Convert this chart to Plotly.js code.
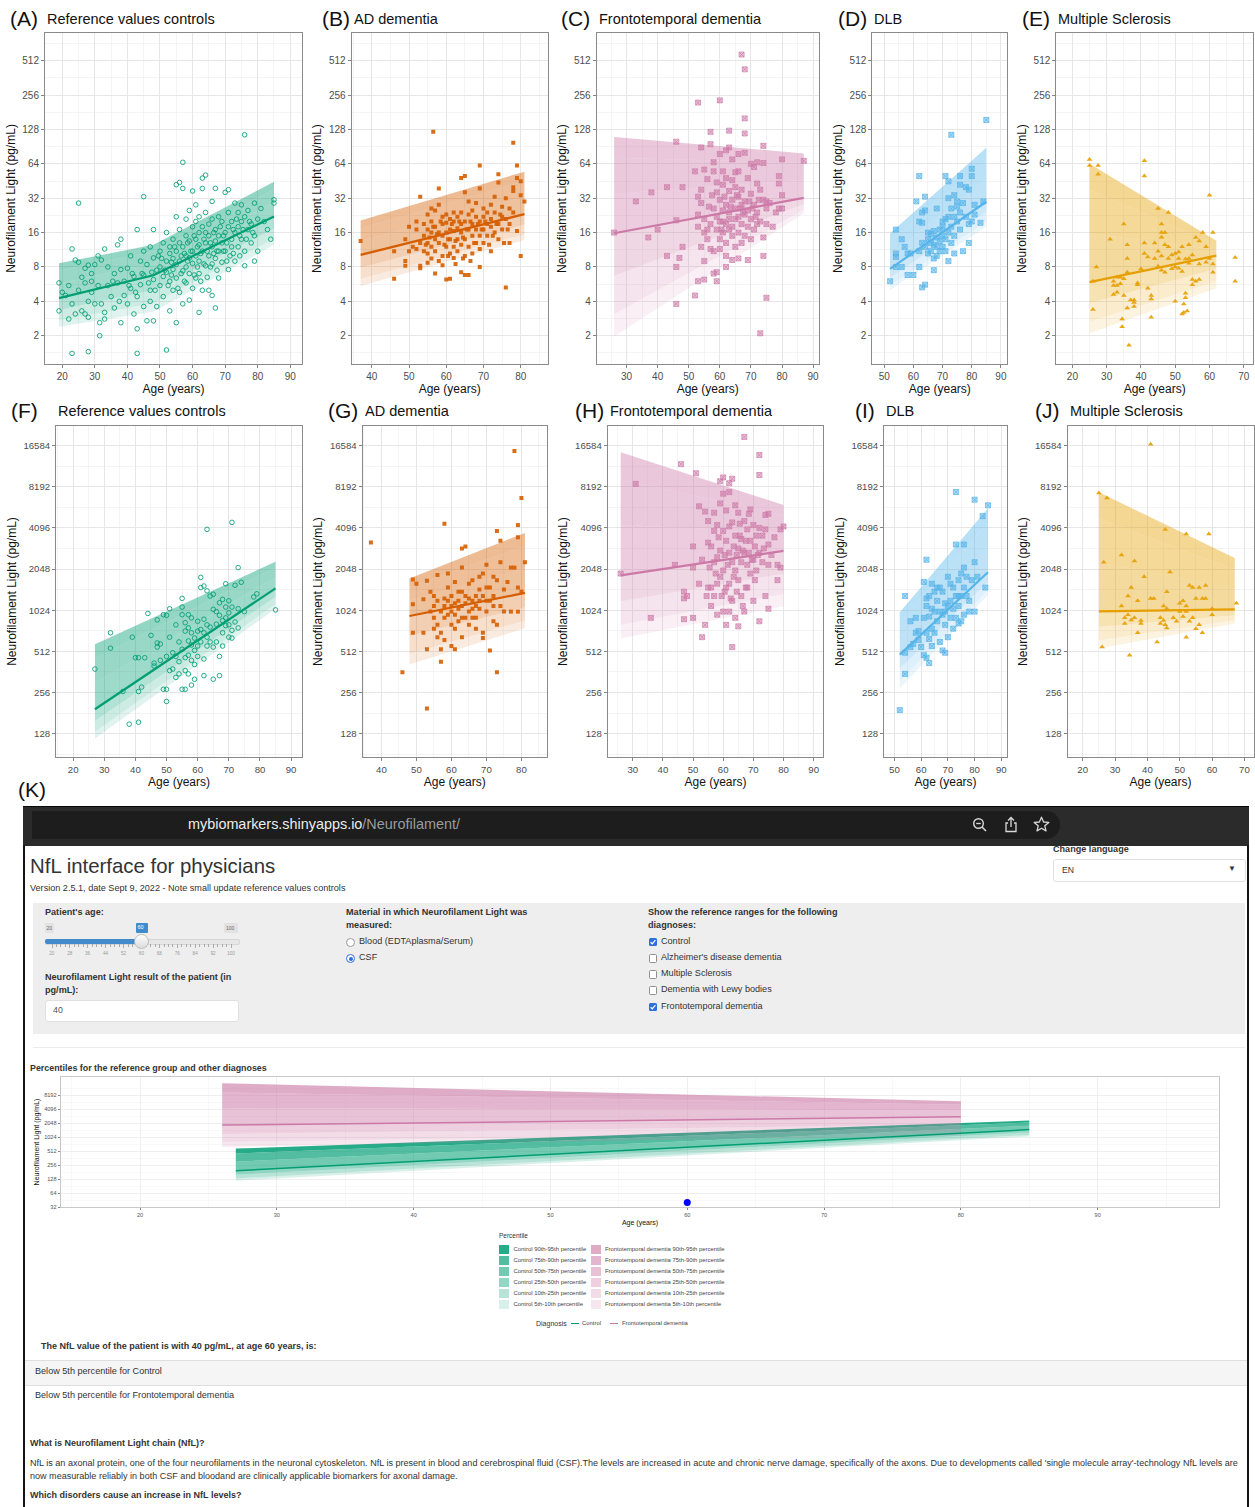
<!DOCTYPE html>
<html><head><meta charset="utf-8">
<script src="https://cdn.plot.ly/plotly-3.0.1.min.js"></script>
<style>
html,body{margin:0;padding:0;background:#fff;}
#wrap{position:relative;width:1255px;height:1507px;overflow:hidden;font-family:"Liberation Sans",Arial,Helvetica,sans-serif;}
#plot{position:absolute;left:0;top:0;width:1255px;height:1507px;}
#ui{position:absolute;left:0;top:0;width:1255px;height:1507px;pointer-events:none;z-index:2;}
#ui > div,#ui > svg{position:absolute;}
.t{white-space:nowrap;line-height:1;color:#333;}
.b{font-weight:bold;}
</style></head>
<body><div id="wrap"><div id="plot"></div><div id="ui">
<!-- browser bar -->
<div style="left:23px;top:806px;width:1226px;height:39px;background:#2b2b2b;border-top:1.5px solid #080808;"></div>
<div style="left:32px;top:811px;width:1028px;height:28px;background:#1d1d1d;border-radius:0 14px 14px 0;"></div>
<div class="t" style="left:188px;top:817px;font-size:14.4px;color:#ececec;">mybiomarkers.shinyapps.io<span style="color:#9b9b9b">/Neurofilament/</span></div>
<svg style="left:972px;top:817px" width="16" height="16" viewBox="0 0 16 16"><circle cx="6.5" cy="6.5" r="4.8" fill="none" stroke="#d8d8d8" stroke-width="1.4"/><line x1="10" y1="10" x2="14" y2="14" stroke="#d8d8d8" stroke-width="1.6"/><line x1="4.2" y1="6.5" x2="8.8" y2="6.5" stroke="#d8d8d8" stroke-width="1.3"/></svg>
<svg style="left:1003px;top:816px" width="16" height="17" viewBox="0 0 16 17"><path d="M5 7 H3 V15.5 H13 V7 H11" fill="none" stroke="#d8d8d8" stroke-width="1.3"/><path d="M8 11 V1.5 M5 4.5 L8 1.5 L11 4.5" fill="none" stroke="#d8d8d8" stroke-width="1.3"/></svg>
<svg style="left:1033px;top:816px" width="17" height="17" viewBox="0 0 17 17"><polygon points="8.5,1.2 10.6,6 15.8,6.4 11.8,9.8 13,14.9 8.5,12.2 4,14.9 5.2,9.8 1.2,6.4 6.4,6" fill="none" stroke="#d8d8d8" stroke-width="1.3" stroke-linejoin="round"/></svg>
<div style="left:23px;top:845px;width:2px;height:662px;background:#141414"></div>
<div style="left:1247px;top:845px;width:2px;height:662px;background:#141414"></div>
<!-- header -->
<div class="t" style="left:30px;top:856px;font-size:20.4px;">NfL interface for physicians</div>
<div class="t" style="left:30px;top:884px;font-size:9.1px;">Version 2.5.1, date Sept 9, 2022 - Note small update reference values controls</div>
<div class="t b" style="left:1053px;top:845px;font-size:9.1px;">Change language</div>
<div style="left:1053px;top:859px;width:191px;height:21px;background:#fff;border:1px solid #e0e0e0;border-radius:3px;"></div>
<div class="t" style="left:1062px;top:865.5px;font-size:8.6px;">EN</div>
<div class="t" style="left:1228px;top:865px;font-size:8px;color:#333;">&#9660;</div>
<!-- well -->
<div style="left:33px;top:903px;width:1212px;height:131px;background:#eeeeee;"></div>
<div class="t b" style="left:45px;top:908px;font-size:9.1px;">Patient's age:</div>
<div style="left:45px;top:922.5px;width:9px;height:10px;background:#e2e2e2;border-radius:1px;"></div>
<div class="t" style="left:46.5px;top:925.5px;font-size:5px;color:#666;">20</div>
<div style="left:135.5px;top:922.5px;width:12px;height:10px;background:#428bca;border-radius:1px;"></div>
<div class="t" style="left:137.5px;top:925px;font-size:5.6px;color:#fff;">60</div>
<div style="left:224px;top:922.5px;width:14px;height:10px;background:#e2e2e2;border-radius:1px;"></div>
<div class="t" style="left:226px;top:925.5px;font-size:5px;color:#666;">100</div>
<div style="left:45px;top:939px;width:193px;height:4px;background:#e6e6e6;border-radius:2px;border:0.5px solid #d6d6d6;"></div>
<div style="left:45px;top:939px;width:96px;height:4.5px;background:#428bca;border-radius:2px;"></div>
<div id="sliderTicks" style="left:0;top:0;width:1px;height:1px;"></div>
<div style="left:134px;top:934px;width:13px;height:13px;border-radius:50%;background:linear-gradient(#fdfdfd,#dcdcdc);border:1px solid #bdbdbd;"></div>
<div class="t b" style="left:45px;top:972.7px;font-size:9.1px;">Neurofilament Light result of the patient (in</div>
<div class="t b" style="left:45px;top:985.7px;font-size:9.1px;">pg/mL):</div>
<div style="left:45px;top:1000px;width:192px;height:20px;background:#fff;border:1px solid #e0e0e0;border-radius:3px;"></div>
<div class="t" style="left:53px;top:1005.7px;font-size:8.8px;color:#555;">40</div>
<div class="t b" style="left:346px;top:908px;font-size:9.1px;">Material in which Neurofilament Light was</div>
<div class="t b" style="left:346px;top:921px;font-size:9.1px;">measured:</div>
<div style="left:346px;top:938px;width:7px;height:7px;border-radius:50%;background:#fff;border:1px solid #9a9a9a;"></div>
<div class="t" style="left:359px;top:937px;font-size:9.1px;">Blood (EDTAplasma/Serum)</div>
<div style="left:346px;top:954px;width:7px;height:7px;border-radius:50%;background:#fff;border:1px solid #2d6fd6;"></div>
<div style="left:348.5px;top:956.5px;width:4px;height:4px;border-radius:50%;background:#2d6fd6;"></div>
<div class="t" style="left:359px;top:953px;font-size:9.1px;">CSF</div>
<div class="t b" style="left:648px;top:908px;font-size:9.1px;">Show the reference ranges for the following</div>
<div class="t b" style="left:648px;top:921px;font-size:9.1px;">diagnoses:</div>
<div id="checks" style="left:0;top:0;width:1px;height:1px;"></div>
<div style="left:33px;top:1046.5px;width:1212px;height:1.5px;background:#ececec;"></div>
<div class="t b" style="left:30px;top:1063.6px;font-size:8.9px;">Percentiles for the reference group and other diagnoses</div>
<!-- legend -->
<div class="t" style="left:499px;top:1232.5px;font-size:6.5px;color:#333;">Percentile</div>
<div id="legend" style="left:0;top:0;width:1px;height:1px;"></div>
<div class="t" style="left:536px;top:1319.8px;font-size:7px;color:#333;">Diagnosis</div>
<div id="legend2" style="left:0;top:0;width:1px;height:1px;"></div>
<!-- result -->
<div class="t b" style="left:41px;top:1342px;font-size:9px;">The NfL value of the patient is with 40 pg/mL, at age 60 years, is:</div>
<div style="left:25px;top:1360px;width:1222px;height:24px;background:#f5f5f5;border-top:1px solid #dedede;border-bottom:1px solid #dedede;"></div>
<div class="t" style="left:35px;top:1367px;font-size:9.1px;">Below 5th percentile for Control</div>
<div class="t" style="left:35px;top:1391px;font-size:9.1px;">Below 5th percentile for Frontotemporal dementia</div>
<div class="t b" style="left:30px;top:1439px;font-size:9px;">What is Neurofilament Light chain (NfL)?</div>
<div class="t" style="left:30px;top:1459px;font-size:9.05px;">NfL is an axonal protein, one of the four neurofilaments in the neuronal cytoskeleton. NfL is present in blood and cerebrospinal fluid (CSF).The levels are increased in acute and chronic nerve damage, specifically of the axons. Due to developments called 'single molecule array'-technology NfL levels are</div>
<div class="t" style="left:30px;top:1472px;font-size:9.05px;">now measurable reliably in both CSF and bloodand are clinically applicable biomarkers for axonal damage.</div>
<div class="t b" style="left:30px;top:1491px;font-size:9px;">Which disorders cause an increase in NfL levels?</div>
</div></div>
<script>
// ===================== DATA =====================
const panelLetters = ['(A)','(B)','(C)','(D)','(E)','(F)','(G)','(H)','(I)','(J)'];
const panelTitles = ['Reference values controls','AD dementia','Frontotemporal dementia','DLB','Multiple Sclerosis',
                     'Reference values controls','AD dementia','Frontotemporal dementia','DLB','Multiple Sclerosis'];
const xTitle = 'Age (years)';
const yTitle = 'Neurofilament Light (pg/mL)';
const yTicksBlood = [2,4,8,16,32,64,128,256,512];
const yTicksCSF = [128,256,512,1024,2048,4096,8192,16384];
const yTickTextCSF = ['128','256','512','1024','2048','4096','8192','16584'];
const yTicksApp = [32,64,128,256,512,1024,2048,4096,8192];
const xTicksA = [20,30,40,50,60,70,80,90];
const xTicksB = [40,50,60,70,80];
const xTicksC = [30,40,50,60,70,80,90];
const xTicksD = [50,60,70,80,90];
const xTicksE = [20,30,40,50,60,70];
const xTicksApp = [20,30,40,50,60,70,80,90];
const percentileLabels = ['5th','10th','25th','50th','75th','90th','95th'];
const legendBands = ['90th-95th','75th-90th','50th-75th','25th-50th','10th-25th','5th-10th'];
const diagnosesApp = ['Control','Frontotemporal dementia'];
const checkboxLabels = ['Control',"Alzheimer's disease dementia",'Multiple Sclerosis','Dementia with Lewy bodies','Frontotemporal dementia'];
const checkboxState = [true,false,false,false,true];
const sliderLabels = [20,28,36,44,52,60,68,76,84,92,100];
const patientAge = [60];
const patientNfl = [40];

// (A) controls, blood
const ageA = [19,19,20,21,22,22,23,23,23,24,
24,25,25,25,26,26,27,27,27,28,
28,28,28,29,29,29,30,30,31,31,
31.5,31.5,32,32,33,33,33,34,34,35,
36,36,37,37,38,38,38,39,39,40,
40,41,41,42,42,43,43,43,43,44,
44,45,45,45,45,46,46,47,47,47,
48,48,48,48,49,49,50,50,50,51,
51,51,52,52,52,52,53,53,53,53,
54,54,54,54,55,55,55,55,55,55,
56,56,56,56,56,57,57,57,57,57,
58,58,58,58,58,59,59,59,59,59,
60,60,60,60,60,61,61,61,61,61,
62,62,62,62,62,62,63,63,63,63,
63,64,64,64,64,64,65,65,65,65,
66,66,66,66,66,67,67,67,67,67,
68,68,68,68,69,69,69,70,70,70,
71,71,71,71,72,72,72,73,73,73,
74,74,74,75,75,75,76,76,76,76,
77,77,78,78,79,79,79,80,80,81,
82,83,85,85,84,53.5,54.5,56.5,57.5,58.5,
59.5,60.5,61.5,62.5,63.5,64.5,65.5,66.5,67.5,68.5,
69.5,70.5,71.5,72.5,73.5,74.5,75.5,76.5,77.5,78.5,
50.5,51.5,52.5,53.5,55.5,56.5,57.5,58.5,60.5,61.5,
62.5,63.5,64.5,65.5,66.5,67.5,69.5,70.5,72.5,74.5,
44.5,46.5,47.5,48.5,49.5,40.5,41.5,42.5,35.5,37.5];
const nflA = [5.8,3.3,4.8,4.5,2.8,5.5,11.5,1.4,3.8,9.2,
3.1,29,8.8,5,3.3,6.5,7.8,3.1,5.8,1.45,
8.3,4,2.9,6,4.8,7,3.8,8.4,10,5.5,
2.6,2.0,3.8,9.2,11.5,3.2,2.8,5.5,8,4.4,
7,3.5,12.5,5.8,14,2.6,7.6,4.5,6,7.8,
3.8,5.2,10,3.1,6.6,17,2.3,1.4,4.4,9,
5.6,33,11,6.8,3.6,2.7,8.4,12,5,4,
17,2.7,9.6,6.2,7.5,3.6,11,5.5,8,6.6,
13,4.4,1.5,9,7.2,16,6,10.5,3.3,12,
7.6,14,5,9.5,42,22,2.6,8.4,6.4,11,
44,17,4.8,9,13,66,39,7.4,3.8,12,
21,10,5.8,15,8,25,9.6,4.1,13.5,7,
37,18,11,8.6,5.2,28,14,6.4,20,10,
3.2,16,9,12.5,22,7,48,39,11,18,
5,51,24,13,8.2,16,19,10,5,15,
30,12,21,8.5,4.5,39,3.5,17,13.5,9.5,
22,11,15,6.4,20,13,8.8,36,16,11,
38,24,7.6,18,12,20,14,29,9,16,
24,12,18,28,14,20,115,11,22,8.2,
17,25,13,19,29,9,15,21,11,26,
20,17,31,29,14,8.8,12,7,10.5,13,
11,15,8,10.5,14,11,13,16,11,18,
15,13,10,17,21,15,17,14,20,16,
9.5,7.5,5.5,6.8,5.2,10,6,9,6.8,12,
6,8.5,6.5,8,10.5,7.5,11,9,10.5,10,
7,5.8,7.2,5,10,5.5,7,4.8,6,4];
const bandAgeA = [19,48,85];
const bandsA = [[2.4,3.25,12.5],[2.73,3.84,14.2],[3.36,5.0,17.4],[4.27,6.77,22.1],[5.7,8.7,29.5],[7.4,10.9,38.2],[8.6,12.5,44.6]];

// (B) AD dementia, blood
const ageB = [37,46,46,49,49,49,50,50,51,52,
52,52,53,53,53,53,54,54,54,55,
55,55,55,55,56,56,56,56,56.5,56,
57,57,57,57,57,58,58,58,58,58,
59,59,59,59,59,60,60,60,60,60,
61,61,61,61,61,62,62,62,62,62,
63,63,63,63,64,64,64,64,64,64,
65,65,65,65,65,65,66,66,66,66,
66,67,67,67,67,68,68,68,68,69,
69,69,69,69,69,70,70,70,70,71,
71,71,72,72,72,72,73,73,73,74,
74,74,74,75,75,75,76,76,76,77,
77,77,78,78,78,78,79,79,79,80,
80,80,81,54.5,55.5,56.5,57.5,58.5,59.5,60.5,
61.5,62.5,63.5,64.5,65.5,66.5,67.5,68.5,69.5,70.5,
71.5,72.5,73.5,74.5,75.5,76.5,60.5,62.5,64.5,66.5];
const nflB = [13.5,11,6.3,14,9,8.2,18,11,12,20,
11.5,17,33,8.2,7.8,13,19,11,15,23,
13,8.7,17,10.5,26,16,12,9.5,122,20,
25,14,7,18,11,39,28,16,9,13,
22,15,10,8.3,19,6.2,23,16,12,19.5,
6.3,21,14,10.5,17,24,12,16.5,9.6,20,
22,14,11,17.5,48,7.2,24,16,12.5,19,
50,36,6.8,14,20,10,30,6.8,17,12,
23,25,15,10.5,19,29,13,22,17,62,
39,8,15,20,11.5,26,17,13,22,24,
15,19,28,11,18,21,33,16,24,52,
44,19,14,27,17,22,5.3,21,32,19,
13,26,98,40,37,24,62,48,16.5,45,
10,34,30,12.5,14.5,18,15.5,20,12.5,14,
19,13.5,20,14.5,17,20,13,19,17,20,
12.5,15,19,23,13,17,10,8.5,9.5,9];
const bandAgeB = [37,81];
const bandsB = [[5.46,13.8],[6.3,15.5],[7.9,18.8],[10.2,23.2],[13.5,32.8],[17.5,45.1],[20.4,54.6]];

// (C) Frontotemporal dementia, blood
const ageC = [26,33,37,38,40,43,43,46,46,46,
46,47,48,48,52,52,53,53,53,53,
53,54,54,54,54,55,55,55,55,55,
56,56,56,57,57,57,57,58,58,58,
58,58,59,59,59,59,59,59,60,60,
60,60,60,60,61,61,61,61,61,62,
62,62,62,62,62,62,63,63,63,63,
63,63,64,64,64,64,64,64,65,65,
65,65,65,66,66,66,66,66,66,67,
67,67,67,67,68,68,68,68,68,68,
68,69,69,69,69,70,70,70,70,71,
71,71,72,72,72,72,73,73,73,74,
74,74,74,74,75,75,75,75,76,77,
78,79,79,79,80,80,80,87,61.5,63.5,
65.5,66.5,67.5,69.5,70.5,71.5,72.5,57.5,56.5,60.5];
const nflC = [16,30,14.5,36,17,40,10,100,20.5,8,
3.8,9.6,40,12,4.5,55,220,6,33,23,
18,89,29,38,12,9,6.2,57,16,21,
47,17,14,122,95,11.5,19,66,55,26,
11,7,6,7.2,44,36,22,17,230,78,
31,20,14,11.5,55,42,25,16,20,84,
8,28,48,19,13,10,125,89,37,24,
17,21,70,46,31,18,15,9.2,54,40,
26,21,12,78,9.5,55,33,22,16,580,
38,28,19,13,430,160,118,80,30,23,
15,48,25,18,9.2,64,35,21,14,60,
28,17,66,43,24,19,2.1,38,20,92,
10,14.5,31,65,4.3,30,26,19,29,18,
24,50,43,26,70,34,26,68,33,27,
34,26,24,30,26,22,31,34,27,17];
const bandAgeC = [26,87];
const bandsC = [[1.97,23.6],[3.1,25.3],[6.7,28.4],[15.8,32.2],[35,46.5],[72.5,65.3],[110,79]];

// (D) DLB, blood
const ageD = [52,54,54,54,54,56,56,57,58,58,
59,60,61,62,62,62,62,63,63,63,
63,64,64,64,64,65,65,65,66,66,
66,67,67,67,67,68,68,68,68,69,
69,69,70,70,70,70,71,71,71,71,
72,72,72,72,72,73,73,73,73,74,
74,74,74,75,75,75,76,76,76,76,
77,77,78,78,79,79,79,80,80,80,
81,81,83,84,85];
const nflD = [6,17,10.5,9.8,8,14,8,12,10.5,6.8,
10.5,6.8,30,50,20,8,11,5.3,24,19.5,
13,5.6,33,25,12,14,10.5,16,11,15.5,
13,7.5,16.5,9.5,12.5,26,12,14.5,10,17,
13.5,11,20,15,12,18,50,14,21,11,
45,32,9,16,22,115,18,13,26,34,
22,15,10.5,30,20,27,50,42,17,24,
11,29,40,22,13,38,19,58,50,20,
23,28,19.5,30,155];
const bandAgeD = [52,85];
const bandsD = [[5.03,18],[5.52,20.1],[6.45,24.3],[7.7,29.8],[10.3,46.5],[13.45,69.6],[15.8,88.6]];

// (E) Multiple Sclerosis, blood
const ageE = [25,25,26,26,27,27.5,27.5,31,32,32,
32,33,33,33,34,34,34.5,34.5,35,35,
35,36,36,36,36,36.5,37,38,38,38,
39,39,40,41,41,41,41,42,42,43,
43,43,44,44,45,45,45,46,46,46,
46,46,47,47,47,48,48,48,49,49,
50,50,50,51,51,51,52,52,52,52.5,
52.5,53,53,53,53.5,54,54,54,55,55,
55,56,56,57,57,57,58,59,59,60,
60,61,61,61,67.5,67.5];
const nflE = [70,62,6,3.4,8,62,52,14,6,4.6,
5.5,6.5,5.5,4.8,6.5,5.7,2.8,2.4,19,6.3,
4.5,12.5,9.5,7.2,3.5,1.65,4.1,3.6,4.1,3.9,
5.8,5.6,7.7,68,50,13,10.5,9.8,5.2,4.5,
4.2,2.9,9.5,13,26,11,8.1,19,16,14.6,
10,7.5,16,12.5,7.2,24,12,9.5,10.2,7.7,
4,10.5,8,7.8,9.5,10.8,7.3,12,3.1,3.8,
3.2,4.7,4.3,9.4,3.3,12.5,9.5,8.6,10.2,6.2,
5.6,14.5,6,8.5,13.5,6.2,16,12,8.8,34,
9.5,16,8.5,7.2,9.7,6];
const bandAgeE = [25,62];
const bandsE = [[2.1,5.2],[2.66,6.0],[3.86,7.7],[5.9,10.05],[15.7,11.4],[37.8,12.7],[64,13.6]];

// (F) controls, CSF
const ageF = [27,32,32,36,38,39,40,41,41,41,
42,43,44,45,46,46,47,47,47,48,
48,49,49,50,50,50,50,51,51,51,
52,53,53,54,55,55,55,55,55,56,
56,56,57,57,57,57,58,58,58,58,
59,59,60,60,60,61,61,61,62,62,
62,62,63,63,63,63,64,64,65,65,
65,65,66,66,67,67,67,67,68,68,
68,69,69,69,70,70,70,71,71,71,
71,72,72,73,73,73,74,75,78,79,
85,52,53,54,56,57,58,59,60,61,
62,63,64,66,68,69,70,54,56,59];
const nflF = [380,700,540,260,150,650,460,460,155,260,
280,460,970,670,420,400,870,590,550,580,
440,950,270,940,270,470,220,1050,650,370,
500,800,470,430,1250,1080,950,530,270,830,
720,270,950,760,610,350,900,570,440,290,
640,520,720,560,470,1780,1500,740,1540,880,
450,340,4000,1420,650,560,1300,770,1340,1040,
550,320,810,600,1160,940,340,470,1230,860,
560,1600,1080,790,1200,980,650,4500,1080,730,
640,1560,840,2100,1050,760,1640,1000,1280,1350,
1030,380,330,600,460,480,700,410,850,600,
700,800,600,1000,700,900,800,350,370,320];
const bandAgeF = [27,85];
const bandsF = [[118,1050],[132,1136],[158,1287],[193,1480],[302,1783],[452,2105],[576,2320]];

// (G) AD dementia, CSF
const ageG = [37,46,49,49,49,50,52,52,53,53,
53,54,55,55,56,56,57,57,57,58,
58,58,58,59,59,60,60,60,61,61,
61,62,62,62,63,63,63,63,64,64,
65,65,65,66,66,66,67,67,68,68,
68,69,69,69,70,70,70,71,71,72,
72,72,73,73,73,73,74,74,74,75,
75,76,77,77,78,78,79,79,79,79,
80,80,81,54,55,56,57,58,59,59,
60,60,61,62,63,64,64,65,66,67,
67,68,69,70,71,72,56,55,61,63];
const nflG = [3200,360,1720,1130,700,1600,1230,700,1680,530,
195,1400,1100,900,1850,1200,430,700,530,4400,
1250,900,620,1900,1500,1300,800,560,1150,1650,
530,1050,1400,850,2100,1400,900,2900,3000,1150,
1000,1600,800,1700,1200,900,1300,750,1800,1050,
1450,1900,700,640,2200,1500,1000,1200,520,1800,
1300,850,3900,1700,360,800,2300,3300,1100,1450,
1000,1650,1000,2100,15000,2100,4300,3500,1500,1000,
6800,1400,2300,1000,1300,800,1000,1100,950,1200,
1000,1100,950,1200,1100,900,1300,1250,1050,1100,
900,1200,1300,1200,1500,1100,650,750,750,650];
const bandAgeG = [48,81];
const bandsG = [[410,755],[491,861],[666,1075],[929,1370],[1201,2076],[1520,3019],[1745,3770]];

// (H) Frontotemporal dementia, CSF
const ageH = [26,31,36,44,46,47,47,47,48,50,
50,50,51,52,52,53,53,54,54,55,
55,55,56,56,56,57,57,57,57,58,
58,58,58,59,59,59,59,60,60,60,
60,60,61,61,61,61,62,62,62,62,
62,62,63,63,63,63,63,64,64,64,
64,65,65,65,65,66,66,66,67,67,
67,67,68,68,68,69,69,69,70,70,
70,71,71,72,72,72,72,72,73,73,
74,74,74,75,75,75,75,76,77,78,
78,79,79,80,58.5,60.5,61.5,63.5,64.5,65.5,
66.5,67.5,68.5,69.5,70.5,71.5,73.5,59.5,62.5,66.5,
57.5,55.5,54.5,65.5,68.5,70.5,63.5,60.5,67.5,64.5];
const nflH = [1900,8600,900,2200,12000,1400,880,1250,1300,3000,
2100,900,10300,5900,1600,2400,650,5400,800,4600,
3200,1500,3000,1500,1100,5300,3900,2300,1300,4300,
2500,1600,950,9000,6200,2800,1800,9600,7300,3900,
2000,1000,5500,3300,1500,800,8700,7500,4200,2700,
1600,1000,9400,4500,2300,550,1200,6000,3600,2000,
900,5300,2900,1700,780,3400,2300,1300,19000,4600,
2700,1000,4000,2200,1500,5600,3300,1900,4300,2400,
1200,3600,2000,14000,10000,4100,2700,850,3600,2300,
5100,4000,1300,5200,3100,2200,1050,2600,3500,2200,
1700,4000,2100,4200,3500,2600,2200,3000,2600,3600,
2800,3300,2700,2400,3000,2600,2900,1300,1250,1100,
1900,2100,1300,4400,5200,1700,1800,1400,1500,1400];
const bandAgeH = [26,80];
const bandsH = [[635,1097],[803,1351],[1193,1897],[1845,2780],[4300,3822],[9280,5080],[14650,6040]];

// (I) DLB, CSF
const ageI = [52,54,54,54,56,56,57,58,58,59,
59,60,61,61,61,62,62,62,62,62,
63,63,63,63,64,64,64,64,65,65,
65,66,66,67,67,67,68,68,68,69,
69,69,70,70,70,71,71,72,72,72,
73,73,73,73,74,74,74,75,75,75,
76,76,76,76,77,78,78,79,80,80,
80,81,83,84,85,66,71,74,77,69];
const nflI = [190,1300,500,350,850,550,580,700,900,720,
620,550,1650,900,480,2400,1250,1100,700,460,
1300,920,630,420,1050,1600,750,560,1400,1000,
700,1200,850,1500,1000,600,1400,950,520,1150,
800,500,1800,1100,650,1200,900,1500,1050,750,
3100,7500,1300,900,1700,1100,820,1900,1300,850,
3100,2100,1500,950,1800,1200,1000,1700,2300,1000,
6600,1800,5000,1500,6000,1500,1600,1300,1300,1000];
const bandAgeI = [52,85];
const bandsI = [[274,1325],[311,1438],[383,1663],[484,1940],[648,3019],[843,4480],[990,5720]];

// (J) Multiple Sclerosis, CSF
const ageJ = [25,26,26.5,27.5,32,32,33,33,34,34,
35,35,36,36,37,37,38,38,39,41,
41,42,43,44,44,45,45,45.5,45.5,46,
46,46,47,48,49,50,50,51,51,52,
52,52,52,53,53,54,54,55,55,56,
56,57,57,58,58,59,60,60,67.5,34.5];
const nflJ = [7400,550,2300,6800,2600,1100,900,820,1300,950,
1500,870,2350,900,1200,700,820,860,1800,16800,
1250,1250,600,900,820,1100,860,4000,800,1400,
1050,760,1950,900,850,1150,1000,1200,920,1100,
1000,3700,650,850,1550,1500,900,1250,750,1500,
800,700,1250,1550,1250,3700,1050,950,1150,480];
const bandAgeJ = [25,67];
const bandsJ = [[537,820],[617,867],[776,942],[1003,1038],[2290,1478],[4800,2034],[7480,2470]];

// ===================== BUILD =====================
const W = 1255, H = 1507;
const FONT = '"Liberation Sans", Arial, Helvetica, sans-serif';
const base = {green:[0,158,115], orange:[213,94,0], pink:[204,121,167], blue:[86,180,233], yellow:[230,159,0]};
function rgba(c,a){return 'rgba('+c[0]+','+c[1]+','+c[2]+','+a+')';}
function mix(c,a){return 'rgb('+Math.round(c[0]*a+255*(1-a))+','+Math.round(c[1]*a+255*(1-a))+','+Math.round(c[2]*a+255*(1-a))+')';}
function sfx(i){return i===1?'':String(i);}
const gAlpha = [0.12,0.2,0.3,0.38,0.4,0.42];
const kAlphaG = [0.15,0.28,0.42,0.55,0.68,0.85];
const kAlphaP = [0.18,0.26,0.36,0.46,0.55,0.62];

const markers = {
  green:{symbol:'circle-open', size:4.6, color:rgba(base.green,0.85), line:{width:1}},
  orange:{symbol:'square', size:4, color:rgba(base.orange,0.9), line:{width:0}},
  pink:{symbol:'square-x', size:5, color:rgba(base.pink,0.45), line:{color:rgba(base.pink,0.85), width:0.8}},
  blue:{symbol:'square-x', size:5, color:rgba(base.blue,0.45), line:{color:rgba(base.blue,0.9), width:0.8}},
  yellow:{symbol:'triangle-up', size:5, color:rgba(base.yellow,0.9), line:{width:0}}
};

const panels = [
 {age:ageA,nfl:nflA,bAge:bandAgeA,bands:bandsA,col:'green', xt:xTicksA, g:{l:45,r:302,t:33,b:364}, xr:[14.7,93.6], row:1, lx:8},
 {age:ageB,nfl:nflB,bAge:bandAgeB,bands:bandsB,col:'orange',xt:xTicksB, g:{l:351.7,r:547.7,t:33,b:364}, xr:[34.6,87.25], row:1, lx:320},
 {age:ageC,nfl:nflC,bAge:bandAgeC,bands:bandsC,col:'pink',  xt:xTicksC, g:{l:596.7,r:818.7,t:33,b:364}, xr:[20.4,91.8], row:1, lx:559},
 {age:ageD,nfl:nflD,bAge:bandAgeD,bands:bandsD,col:'blue',  xt:xTicksD, g:{l:872.3,r:1007.3,t:33,b:364}, xr:[45.9,92.2], row:1, lx:836},
 {age:ageE,nfl:nflE,bAge:bandAgeE,bands:bandsE,col:'yellow',xt:xTicksE, g:{l:1056.3,r:1253,t:33,b:364}, xr:[15.3,72.7], row:1, lx:1020},
 {age:ageF,nfl:nflF,bAge:bandAgeF,bands:bandsF,col:'green', xt:xTicksA, g:{l:56,r:302,t:426,b:757}, xr:[14.5,93.5], row:2, lx:9},
 {age:ageG,nfl:nflG,bAge:bandAgeG,bands:bandsG,col:'orange',xt:xTicksB, g:{l:362.5,r:547,t:426,b:757}, xr:[34.6,87.3], row:2, lx:326},
 {age:ageH,nfl:nflH,bAge:bandAgeH,bands:bandsH,col:'pink',  xt:xTicksC, g:{l:607.7,r:823.3,t:426,b:757}, xr:[21.7,93.2], row:2, lx:573},
 {age:ageI,nfl:nflI,bAge:bandAgeI,bands:bandsI,col:'blue',  xt:xTicksD, g:{l:884,r:1007.2,t:426,b:757}, xr:[46.1,92.2], row:2, lx:853},
 {age:ageJ,nfl:nflJ,bAge:bandAgeJ,bands:bandsJ,col:'yellow',xt:xTicksE, g:{l:1067.5,r:1253.5,t:426,b:757}, xr:[15.3,72.8], row:2, lx:1033}
];

function halfSteps(ticks){const o=[ticks[0]/Math.SQRT2]; ticks.forEach(t=>o.push(t*Math.SQRT2)); return o;}

const traces = [];
const layout = {width:W, height:H, margin:{l:0,r:0,t:0,b:0}, paper_bgcolor:'#fff', plot_bgcolor:'#fff',
  showlegend:false, font:{family:FONT, color:'#222'}, annotations:[]};

function bandTraces(id,bAge,bands,col,alphas){
  const s=sfx(id);
  for(let k=0;k<bands.length;k++){
    const tr={type:'scatter',x:bAge,y:bands[k],xaxis:'x'+s,yaxis:'y'+s,mode:'lines',
      line:{width:0,color:rgba(col,0)},hoverinfo:'skip',showlegend:false,name:percentileLabels[k]};
    if(k>0){tr.fill='tonexty'; tr.fillcolor=rgba(col,alphas[k-1]);}
    traces.push(tr);
  }
}

function axisPair(id,g,xr,yr,xt,yt,ytt,tf,ttf,opts){
  const s=sfx(id);
  const common={ticks:'outside',ticklen:opts.tl,tickwidth:0.8,tickcolor:'#666',showline:true,mirror:true,
    linecolor:opts.lc,linewidth:1,showgrid:true,gridcolor:opts.gc,gridwidth:opts.gw,zeroline:false,fixedrange:true,
    tickfont:{size:tf,color:opts.tc,family:FONT}};
  layout['xaxis'+s]=Object.assign({},common,{domain:[g.l/W,g.r/W],range:xr,anchor:'y'+s,tickmode:'array',tickvals:xt,
    minor:{tickmode:'linear',tick0:5,dtick:10,showgrid:true,gridcolor:opts.mgc,gridwidth:opts.mgw,ticks:''},
    title:{text:xTitle,font:{size:ttf,color:'#111',family:FONT},standoff:opts.xs}});
  layout['yaxis'+s]=Object.assign({},common,{domain:[1-g.b/H,1-g.t/H],type:'log',range:yr,anchor:'x'+s,tickmode:'array',
    tickvals:yt,ticktext:ytt,
    minor:{tickmode:'array',tickvals:halfSteps(yt),showgrid:true,gridcolor:opts.mgc,gridwidth:opts.mgw,ticks:''},
    title:{text:yTitle,font:{size:ttf,color:'#111',family:FONT},standoff:opts.ys}});
}

const ggOpts={tl:3,lc:'#8a8a8a',gc:'#e6e6e6',gw:1,mgc:'#f0f0f0',mgw:0.7,tc:'#4d4d4d',xs:2,ys:4};
panels.forEach((p,i)=>{
  const id=i+1, s=sfx(id), c=base[p.col];
  bandTraces(id,p.bAge,p.bands,c,gAlpha);
  traces.push({type:'scatter',x:p.age,y:p.nfl,xaxis:'x'+s,yaxis:'y'+s,mode:'markers',marker:markers[p.col],hoverinfo:'skip'});
  traces.push({type:'scatter',x:p.bAge,y:p.bands[3],xaxis:'x'+s,yaxis:'y'+s,mode:'lines',line:{color:rgba(c,1),width:2.2},hoverinfo:'skip'});
  const yr = p.row===1 ? [0.0533,2.9519] : [1.9358,4.3588];
  const yt = p.row===1 ? yTicksBlood : yTicksCSF;
  const ytt = p.row===1 ? yTicksBlood.map(String) : yTickTextCSF;
  axisPair(id,p.g,p.xr,yr,p.xt,yt,ytt,p.row===1?10:9.6,12,ggOpts);
  const cy = p.row===1 ? 18 : 410.5;
  layout.annotations.push({xref:'paper',yref:'paper',x:p.lx/W,y:1-cy/H,xanchor:'left',yanchor:'middle',showarrow:false,
    text:panelLetters[i],font:{size:21,color:'#111',family:FONT}});
  layout.annotations.push({xref:'paper',yref:'paper',x:p.g.l/W,y:1-(cy+0.5)/H,xanchor:'left',yanchor:'middle',showarrow:false,
    text:panelTitles[i],font:{size:14.5,color:'#111',family:FONT}});
});

// (K) app chart
const kid=11, ks=sfx(kid);
bandTraces(kid,bandAgeF,bandsF,base.green,kAlphaG);
bandTraces(kid,bandAgeH,bandsH,base.pink,kAlphaP);
traces.push({type:'scatter',x:bandAgeF,y:bandsF[3],xaxis:'x'+ks,yaxis:'y'+ks,mode:'lines',line:{color:rgba(base.green,1),width:1.5},name:diagnosesApp[0],hoverinfo:'skip'});
traces.push({type:'scatter',x:bandAgeH,y:bandsH[3],xaxis:'x'+ks,yaxis:'y'+ks,mode:'lines',line:{color:rgba(base.pink,1),width:1.5},name:diagnosesApp[1],hoverinfo:'skip'});
traces.push({type:'scatter',x:patientAge,y:patientNfl,xaxis:'x'+ks,yaxis:'y'+ks,mode:'markers',marker:{color:'#0000ff',size:7,symbol:'circle'},hoverinfo:'skip'});
axisPair(kid,{l:60.7,r:1219.4,t:1077,b:1207},[14.2,98.9],[1.5051,4.3004],xTicksApp,yTicksApp,yTicksApp.map(String),5.6,7,
  {tl:2,lc:'#c8c8c8',gc:'#ebebeb',gw:0.8,mgc:'#f3f3f3',mgw:0.6,tc:'#555',xs:3,ys:3});
layout.annotations.push({xref:'paper',yref:'paper',x:16/W,y:1-789/H,xanchor:'left',yanchor:'middle',showarrow:false,
  text:'(K)',font:{size:21,color:'#111',family:FONT}});

Plotly.newPlot('plot',traces,layout,{staticPlot:true,displayModeBar:false});

// ===================== UI decorations =====================
function el(parent,css,html){const d=document.createElement('div');d.style.cssText='position:absolute;'+css;if(html!==undefined){d.innerHTML=html;} parent.appendChild(d);return d;}
const st=document.getElementById('sliderTicks');
for(let v=20;v<=100;v+=2){
  const x=51.8+(v-20)*2.24, major=((v-20)%8===0);
  el(st,'left:'+(x-0.3)+'px;top:944px;width:0.6px;height:'+(major?4:2.5)+'px;background:#aaa;');
}
sliderLabels.forEach(v=>{const x=51.8+(v-20)*2.24; el(st,'left:'+(x-6)+'px;top:951.5px;width:12px;text-align:center;font-size:4.6px;line-height:1;color:#999;',String(v));});
const ch=document.getElementById('checks');
const cy=[942,958,974,990.3,1006.7];
checkboxLabels.forEach((lab,i)=>{
  if(checkboxState[i]){
    el(ch,'left:648.5px;top:'+(cy[i]-4)+'px;width:8px;height:8px;border-radius:1.5px;background:#2d6fd6;',
      '<svg width="8" height="8" viewBox="0 0 8 8" style="position:absolute;left:0;top:0"><path d="M1.6 4.2 L3.3 5.8 L6.4 2.2" fill="none" stroke="#fff" stroke-width="1.2"/></svg>');
  } else {
    el(ch,'left:648.5px;top:'+(cy[i]-4)+'px;width:6.5px;height:6.5px;border-radius:1.5px;background:#fff;border:0.8px solid #8f8f8f;');
  }
  el(ch,'left:661px;top:'+(cy[i]-5)+'px;font-size:9.1px;line-height:1;white-space:nowrap;color:#333;',lab);
});
const lg=document.getElementById('legend');
legendBands.forEach((b,r)=>{
  const top=1245+r*11, ai=5-r;
  el(lg,'left:499px;top:'+top+'px;width:10px;height:9px;background:'+mix(base.green,kAlphaG[ai])+';');
  el(lg,'left:513.5px;top:'+(top+1.5)+'px;font-size:5.9px;line-height:1;white-space:nowrap;color:#444;',diagnosesApp[0]+' '+b+' percentile');
  el(lg,'left:590.5px;top:'+top+'px;width:10px;height:9px;background:'+mix(base.pink,kAlphaP[ai])+';');
  el(lg,'left:605px;top:'+(top+1.5)+'px;font-size:5.9px;line-height:1;white-space:nowrap;color:#444;',diagnosesApp[1]+' '+b+' percentile');
});
const lg2=document.getElementById('legend2');
el(lg2,'left:571px;top:1323px;width:8px;height:1.3px;background:'+rgba(base.green,1)+';');
el(lg2,'left:582px;top:1320.7px;font-size:5.9px;line-height:1;white-space:nowrap;color:#444;',diagnosesApp[0]);
el(lg2,'left:610px;top:1323px;width:8px;height:1.3px;background:'+rgba(base.pink,1)+';');
el(lg2,'left:622px;top:1320.7px;font-size:5.9px;line-height:1;white-space:nowrap;color:#444;',diagnosesApp[1]);
</script>
</body></html>
